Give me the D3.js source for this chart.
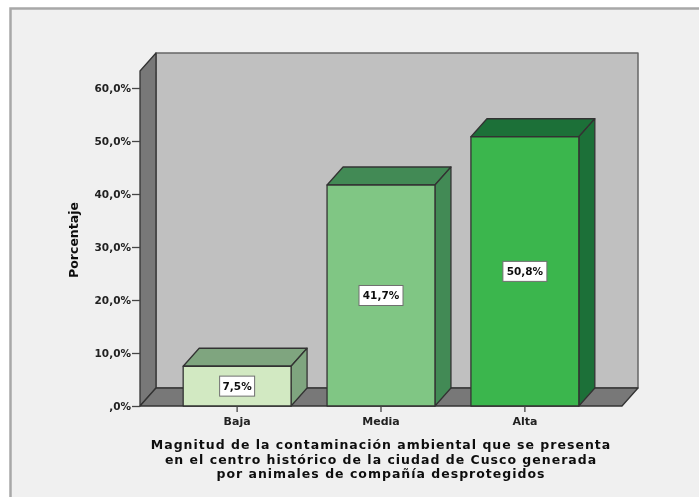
<!DOCTYPE html>
<html><head><meta charset="utf-8">
<script src="https://cdn.jsdelivr.net/npm/d3@7/dist/d3.min.js"></script>
<style>html,body{margin:0;padding:0;background:#fff}svg{display:block}text{font-family:"DejaVu Sans",sans-serif;}</style>
</head><body><svg id="c" width="699" height="497"></svg>
<script>
const categories = ["Baja","Media","Alta"];
const values = [7.5,41.7,50.8];
const valueLabels = ["7,5%","41,7%","50,8%"];
const tickValues = [0,10,20,30,40,50,60];
const tickLabels = [",0%","10,0%","20,0%","30,0%","40,0%","50,0%","60,0%"];
const frontColors = ["#d2e9c2","#80c684","#3bb64e"];
const topColors = ["#7fa57f","#438a55","#1f7039"];
const titleLines = ["Magnitud de la contaminación ambiental que se presenta","en el centro histórico de la ciudad de Cusco generada","por animales de compañía desprotegidos"];

const svg = d3.select("#c");
const defs = svg.append("defs");
defs.append("filter").attr("id","soft").attr("x",0).attr("y",0).attr("width","100%").attr("height","100%")
  .append("feGaussianBlur").attr("stdDeviation",0.45);
const root = svg.append("g").attr("filter","url(#soft)");
const dx = 16, dy = 18, line = "#333";
const y = d3.scaleLinear().domain([0,60]).range([406,88]);
const x = d3.scaleBand().domain(categories).range([140,622]).paddingInner(0.25).paddingOuter(0.3);
const poly = (pts,fill,stroke=line,w=1.3)=>root.append("polygon").attr("points",pts.map(p=>p.join(",")).join(" ")).attr("fill",fill).attr("stroke",stroke).attr("stroke-width",w).attr("stroke-linejoin","round");

root.append("rect").attr("x",0).attr("y",0).attr("width",699).attr("height",497).attr("fill","#fff");
root.append("rect").attr("x",10.5).attr("y",8.5).attr("width",695).attr("height",495).attr("fill","#f0f0f0").attr("stroke","#a8a8a8").attr("stroke-width",2.5);

const x0=x.range()[0], x1=x.range()[1], yB=y(0), yT=71;
poly([[x0+dx,yT-dy],[x1+dx,yT-dy],[x1+dx,yB-dy],[x0+dx,yB-dy]],"#c0c0c0","#666",1.5);
poly([[x0,yT],[x0+dx,yT-dy],[x0+dx,yB-dy],[x0,yB]],"#787878");
poly([[x0,yB],[x0+dx,yB-dy],[x1+dx,yB-dy],[x1,yB]],"#787878");

categories.forEach((c,i)=>{
  const a=x(c), b=a+x.bandwidth(), t=y(values[i]);
  poly([[a,t],[a+dx,t-dy],[b+dx,t-dy],[b,t]],topColors[i]);
  poly([[b,t],[b+dx,t-dy],[b+dx,yB-dy],[b,yB]],topColors[i]);
  poly([[a,t],[b,t],[b,yB],[a,yB]],frontColors[i]);
  const cx=(a+b)/2, cy=(t+yB)/2;
  root.append("rect").attr("x",cx-(i?22:17.5)).attr("y",cy-10).attr("width",i?44:35).attr("height",20).attr("fill","#fff").attr("stroke","#707070").attr("stroke-width",1);
  root.append("text").attr("x",cx).attr("y",cy+4).attr("text-anchor","middle").attr("font-size",10.5).attr("font-weight","bold").attr("fill","#111").text(valueLabels[i]);
});

const yAxis = d3.axisLeft(y).tickValues(tickValues).tickFormat((d,i)=>tickLabels[i]).tickSize(8).tickPadding(1);
const gy = root.append("g").attr("transform",`translate(${x0},0)`).call(yAxis);
gy.select(".domain").remove();
gy.selectAll("line").attr("stroke","#444").attr("stroke-width",1.3);
gy.selectAll("text").attr("font-size",10.5).attr("font-weight","bold").attr("fill","#222");

const xAxis = d3.axisBottom(x).tickSize(6).tickPadding(5);
const gx = root.append("g").attr("transform",`translate(0,${yB})`).call(xAxis);
gx.select(".domain").remove();
gx.selectAll("line").attr("stroke","#444").attr("stroke-width",1.3);
gx.selectAll("text").attr("font-size",11).attr("font-weight","bold").attr("fill","#222");

root.append("text").attr("transform","translate(78,240) rotate(-90)").attr("text-anchor","middle").attr("font-size",12.5).attr("font-weight","bold").attr("fill","#111").text("Porcentaje");
titleLines.forEach((l,i)=>root.append("text").attr("x",381).attr("y",449+i*14.5).attr("text-anchor","middle").attr("font-size",12.5).attr("letter-spacing",1).attr("font-weight","bold").attr("fill","#111").text(l));
</script></body></html>
